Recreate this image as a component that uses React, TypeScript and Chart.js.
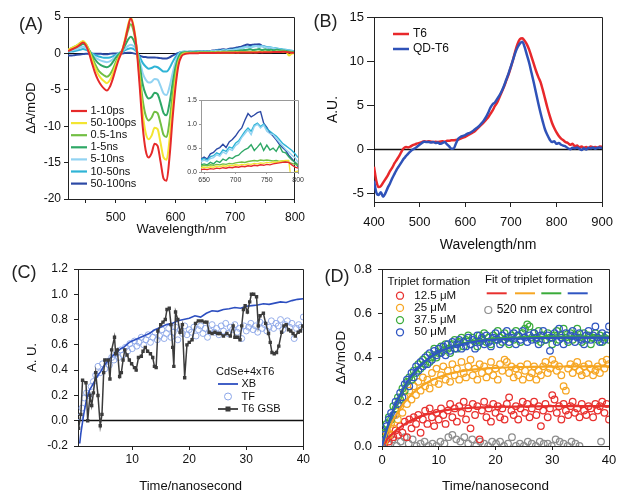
import React, { useEffect, useRef } from 'react';
import { Chart, registerables } from 'chart.js';
Chart.register(...registerables);

const FONT = "'Liberation Sans', Arial, Helvetica, sans-serif";

// ---------------- Panel A: transient spectra ----------------
const wlA = [420, 425, 430, 435, 440, 445, 450, 455, 460, 465, 470, 475, 480, 485, 490, 495, 500, 505, 510, 515, 520, 525, 530, 535, 540, 545, 550, 555, 560, 565, 570, 575, 580, 585, 590, 595, 600, 605, 610, 615, 620, 625, 630, 635, 640, 645, 650, 655, 660, 665, 670, 675, 680, 685, 690, 695, 700, 705, 710, 715, 720, 725, 730, 735, 740, 745, 750, 755, 760, 765, 770, 775, 780, 785, 790, 795, 800];
const a_1_10ps = [0.3, 0.5, 0.7, 0.9, 1.2, 1.5, 1.1, 0.1, -1.3, -2.6, -3.6, -4.3, -4.8, -5.1, -4.6, -3.5, -2.1, -0.8, 0.2, 1.6, 3.4, 4.8, 3.5, 0.6, -4.5, -10.0, -13.3, -14.3, -13.7, -12.4, -12.7, -14.9, -17.2, -17.5, -14.2, -9.0, -4.6, -1.6, -0.4, -0.1, 0.0, 0.02, 0.03, 0.02, 0.04,
  0.05, 0.06, 0.05, 0.07, 0.06, 0.08, 0.07, 0.09, 0.08, 0.10, 0.09, 0.11, 0.10, 0.12, 0.11, 0.13, 0.12, 0.14, 0.13, 0.15, 0.14, 0.16, 0.15, 0.17, 0.18, 0.19, 0.20, 0.21, 0.20, 0.15, 0.10, 0.08];
const a_50_100ps = [0.5, 0.7, 0.9, 1.1, 1.4, 1.7, 1.3, 0.4, -0.8, -1.9, -2.8, -3.4, -3.8, -4.1, -3.7, -2.8, -1.6, -0.6, 0.2, 1.8, 3.7, 5.0, 3.7, 0.8, -3.6, -8.2, -10.9, -11.8, -11.3, -10.2, -10.4, -12.3, -14.3, -14.6, -11.8, -7.4, -3.6, -1.2, -0.3, 0.0, 0.05, 0.06, 0.05, 0.07, 0.08,
  0.09, 0.10, 0.09, 0.11, 0.10, 0.12, 0.11, 0.13, 0.12, 0.14, 0.13, 0.15, 0.14, 0.16, 0.15, 0.17, 0.16, 0.18, 0.17, 0.19, 0.18, 0.20, 0.19, 0.21, 0.20, 0.22, 0.23, 0.24, 0.24, -0.3, 0.0, 0.02];
const a_05_1ns = [0.5, 0.7, 0.9, 1.1, 1.4, 1.6, 1.3, 0.5, -0.5, -1.4, -2.2, -2.7, -3.0, -3.2, -2.9, -2.2, -1.2, -0.4, 0.2, 1.5, 3.0, 4.0, 3.0, 0.7, -2.8, -6.4, -8.5, -9.2, -8.8, -8.0, -8.2, -9.6, -11.2, -11.5, -9.3, -5.8, -2.8, -0.9, -0.1, 0.1, 0.1, 0.1, 0.11, 0.1, 0.12,
  0.12, 0.14, 0.13, 0.15, 0.14, 0.16, 0.15, 0.17, 0.16, 0.18, 0.17, 0.19, 0.20, 0.21, 0.20, 0.22, 0.23, 0.24, 0.23, 0.25, 0.24, 0.25, 0.24, 0.23, 0.24, 0.22, 0.23, 0.21, 0.20, 0.18, 0.16, 0.14];
const a_1_5ns = [0.4, 0.6, 0.7, 0.9, 1.1, 1.3, 1.1, 0.5, -0.2, -0.8, -1.3, -1.6, -1.8, -1.9, -1.7, -1.2, -0.6, -0.1, 0.3, 1.0, 1.8, 2.3, 1.8, 0.5, -1.6, -4.2, -5.6, -6.2, -6.0, -5.4, -5.6, -6.8, -8.2, -8.5, -6.8, -4.2, -1.9, -0.5, 0.1, 0.15, 0.15, 0.14, 0.15, 0.16, 0.15,
  0.15, 0.17, 0.15, 0.20, 0.17, 0.23, 0.20, 0.27, 0.24, 0.30, 0.28, 0.33, 0.35, 0.42, 0.47, 0.50, 0.57, 0.45, 0.52, 0.60, 0.45, 0.56, 0.46, 0.50, 0.43, 0.55, 0.42, 0.40, 0.32, 0.25, 0.20, 0.15];
const a_5_10ns = [0.3, 0.4, 0.5, 0.6, 0.8, 0.9, 0.8, 0.4, -0.1, -0.5, -0.8, -1.0, -1.1, -1.2, -1.1, -0.8, -0.4, 0.0, 0.3, 0.6, 1.0, 1.2, 1.0, 0.3, -1.0, -2.7, -3.6, -4.0, -3.9, -3.5, -3.6, -4.5, -5.5, -5.7, -4.6, -2.8, -1.2, -0.2, 0.2, 0.22, 0.2, 0.22, 0.2, 0.22, 0.2,
  0.22, 0.25, 0.22, 0.28, 0.30, 0.36, 0.33, 0.42, 0.38, 0.48, 0.45, 0.55, 0.60, 0.72, 0.80, 0.88, 0.78, 0.95, 1.00, 0.92, 0.98, 0.85, 0.80, 0.78, 0.70, 0.62, 0.55, 0.47, 0.42, 0.35, 0.30, 0.20];
const a_10_50ns = [0.2, 0.25, 0.3, 0.4, 0.5, 0.6, 0.5, 0.3, 0.0, -0.2, -0.4, -0.5, -0.6, -0.6, -0.55, -0.4, -0.2, 0.0, 0.2, 0.4, 0.6, 0.7, 0.6, 0.2, -0.5, -1.3, -1.8, -2.1, -2.0, -1.8, -1.9, -2.2, -2.5, -2.5, -2.0, -1.2, -0.5, 0.0, 0.2, 0.25, 0.22, 0.25, 0.23, 0.26, 0.25,
  0.26, 0.28, 0.25, 0.32, 0.34, 0.40, 0.37, 0.46, 0.43, 0.52, 0.50, 0.60, 0.65, 0.75, 0.85, 0.92, 0.85, 0.98, 1.02, 0.95, 1.00, 0.90, 0.85, 0.80, 0.75, 0.68, 0.60, 0.55, 0.50, 0.45, 0.38, 0.30];
const a_50_100ns = [-0.3, -0.3, -0.25, -0.2, -0.15, -0.1, -0.05, -0.05, -0.05, -0.05, -0.05, -0.05, -0.1, -0.1, -0.05, 0.0, 0.0, 0.0, 0.0, 0.05, 0.1, 0.1, 0.0, -0.1, -0.3, -0.45, -0.5, -0.55, -0.55, -0.55, -0.6, -0.65, -0.7, -0.7, -0.55, -0.3, -0.1, 0.05, 0.15, 0.2, 0.2, 0.22, 0.22, 0.25, 0.25,
  0.27, 0.31, 0.27, 0.38, 0.41, 0.48, 0.51, 0.58, 0.51, 0.63, 0.68, 0.75, 0.85, 0.92, 1.08, 1.22, 1.15, 1.19, 1.24, 1.26, 1.02, 0.93, 0.82, 0.75, 0.67, 0.58, 0.51, 0.45, 0.35, 0.28, 0.20, 0.11];
const namesA = ['1-10ps', '50-100ps', '0.5-1ns', '1-5ns', '5-10ns', '10-50ns', '50-100ns'];
const valuesA = [a_1_10ps, a_50_100ps, a_05_1ns, a_1_5ns, a_5_10ns, a_10_50ns, a_50_100ns];
const colorsA = ['#e62a2a', '#f3e532', '#72bf44', '#2fa866', '#92d3f2', '#2fb4d6', '#2c49a5'];

// ---------------- Panel B ----------------
const wlB = [400, 405, 410, 415, 420, 425, 430, 435, 440, 445, 450, 455, 460, 465, 470, 475, 480, 485, 490, 495, 500, 505, 510, 515, 520, 525, 530, 535, 540, 545, 550, 555, 560, 565, 570, 575, 580, 585, 590, 595, 600, 605, 610, 615, 620, 625, 630, 635, 640, 645, 650, 655, 660, 665, 670, 675, 680, 685, 690, 695, 700, 705, 710, 715, 720, 725, 730, 735, 740, 745, 750, 755, 760, 765, 770, 775, 780, 785, 790, 795, 800, 805, 810, 815, 820, 825, 830, 835, 840, 845, 850, 855, 860, 865, 870, 875, 880, 885, 890, 895, 900];
const bT6 = [-2.0, -3.6, -4.3, -4.2, -3.8, -3.4, -3.0, -2.5, -2.1, -1.6, -1.2, -0.8, -0.3, 0.1, 0.25, 0.2, 0.3, 0.45, 0.55, 0.65, 0.7, 0.8, 0.9, 0.85, 0.9, 0.85, 0.8, 0.85, 0.8, 0.85, 0.9, 0.85, 0.95, 0.95, 1.0, 1.0, 1.05, 1.1, 1.2, 1.3, 1.4, 1.55, 1.7, 1.85, 2.0, 2.25, 2.5, 2.75, 3.0, 3.3, 3.6, 4.0, 4.4, 4.9, 5.3, 5.9, 6.5, 7.1, 7.8, 8.5, 9.3, 10.2, 11.2, 12.0, 12.5, 12.6, 12.3, 11.9, 11.3, 10.5, 9.7, 8.9, 8.2, 7.6, 6.7, 5.7, 4.7, 3.8, 3.0, 2.4, 1.9, 1.5, 1.2, 1.0, 0.8, 0.7, 0.5, 0.6, 0.35, 0.4, 0.2, 0.3, 0.15, 0.25, 0.1, 0.3, 0.2, 0.25, 0.15, 0.3, 0.25];
const bQDT6 = [-3.6, -4.9, -5.2, -4.9, -5.4, -5.0, -4.4, -3.9, -3.3, -2.8, -2.3, -1.9, -1.5, -1.1, -0.8, -0.5, -0.25, -0.05, 0.1, 0.3, 0.5, 0.7, 0.85, 0.8, 0.8, 0.75, 0.8, 0.7, 0.75, 0.6, 0.7, 0.8, 0.55, 0.3, 0.05, 0.1, 0.7, 1.2, 1.4, 1.5, 1.6, 1.75, 1.85, 2.0, 2.2, 2.4, 2.6, 2.9, 3.2, 3.6, 4.1, 4.7, 5.1, 5.3, 5.7, 6.1, 6.6, 7.2, 7.9, 8.6, 9.4, 10.2, 11.0, 11.6, 12.0, 12.2, 11.6, 10.7, 9.8, 8.7, 7.6, 6.4, 5.2, 4.1, 3.1, 2.2, 1.6, 1.1, 0.8, 0.9, 0.6, 0.7, 0.5, 0.4, 0.3, 0.1, 0.0, 0.15, 0.1, 0.2, 0.05, -0.1, 0.1, -0.05, 0.15, 0.1, 0.2, 0.05, 0.15, 0.2, 0.1];

// ---------------- Panel C ----------------
const xbT = [0.8, 1.0, 1.5, 2, 2.5, 3, 3.5, 4, 4.5, 5, 5.5, 6, 6.5, 7, 7.5, 8, 8.5, 9, 9.5, 10, 11, 12, 13, 14, 15, 16, 17, 18, 19, 20, 21, 22, 23, 24, 25, 26, 27, 28, 29, 30, 31, 32, 33, 34, 35, 36, 37, 38, 39, 40];
const xbV = [-0.18, -0.1, 0.05, 0.17, 0.24, 0.28, 0.32, 0.36, 0.39, 0.43, 0.46, 0.49, 0.51, 0.53, 0.55, 0.57, 0.58, 0.60, 0.62, 0.63, 0.65, 0.67, 0.69, 0.72, 0.74, 0.76, 0.77, 0.79, 0.80, 0.81, 0.83, 0.82, 0.85, 0.87, 0.865, 0.88, 0.885, 0.895, 0.89, 0.905, 0.91, 0.915, 0.925, 0.92, 0.93, 0.94, 0.935, 0.95, 0.96, 0.965];
const tfT = [0.8, 1.2, 1.6, 2.0, 2.4, 2.8, 3.2, 3.6, 4.0, 4.4, 4.8, 5.2, 5.6, 6.0, 6.4, 6.8, 7.2, 7.6, 8.0, 8.4, 8.8, 9.2, 9.6, 10.0, 10.4, 10.8, 11.2, 11.6, 12.0, 12.4, 12.8, 13.2, 13.6, 14.0, 14.4, 14.8, 15.2, 15.6, 16.0, 16.4, 16.8, 17.2, 17.6, 18.0, 18.4, 18.8, 19.2, 19.6, 20.0, 20.4, 20.8, 21.2, 21.6, 22.0, 22.4, 22.8, 23.2, 23.6, 24.0, 24.4, 24.8, 25.2, 25.6, 26.0, 26.4, 26.8, 27.2, 27.6, 28.0, 28.4, 28.8, 29.2, 29.6, 30.0, 30.4, 30.8, 31.2, 31.6, 32.0, 32.4, 32.8, 33.2, 33.6, 34.0, 34.4, 34.8, 35.2, 35.6, 36.0, 36.4, 36.8, 37.2, 37.6, 38.0, 38.4, 38.8, 39.2, 39.6, 40.0];
const tfV = [0.03, 0.10, 0.18, 0.22, 0.20, 0.27, 0.31, 0.36, 0.43, 0.38, 0.45, 0.41, 0.47, 0.44, 0.50, 0.48, 0.53, 0.50, 0.56, 0.52, 0.58, 0.55, 0.61, 0.57, 0.63, 0.59, 0.62, 0.66, 0.60, 0.64, 0.68, 0.62, 0.66, 0.70, 0.64, 0.67, 0.72, 0.65, 0.69, 0.73, 0.66, 0.70, 0.74, 0.64, 0.72, 0.69, 0.75, 0.68, 0.72, 0.70, 0.74, 0.67, 0.72, 0.75, 0.69, 0.73, 0.66, 0.71, 0.76, 0.70, 0.73, 0.68, 0.75, 0.71, 0.77, 0.69, 0.74, 0.72, 0.76, 0.70, 0.73, 0.65, 0.75, 0.71, 0.74, 0.77, 0.72, 0.75, 0.70, 0.78, 0.73, 0.76, 0.71, 0.74, 0.79, 0.73, 0.77, 0.75, 0.80, 0.72, 0.76, 0.79, 0.74, 0.77, 0.65, 0.73, 0.76, 0.74, 0.82];
const gsbT = [0.6, 1.0, 1.3, 1.9, 2.2, 2.6, 2.9, 3.2, 3.6, 4.0, 4.4, 4.7, 5.0, 5.2, 5.8, 6.1, 6.4, 6.9, 7.1, 7.4, 7.8, 8.1, 8.4, 8.7, 9.1, 9.5, 9.9, 10.4, 10.7, 11.1, 11.6, 11.9, 12.3, 12.7, 13.2, 13.6, 13.9, 14.2, 14.5, 15.0, 15.4, 15.8, 16.1, 16.5, 16.8, 17.1, 17.3, 17.6, 18.0, 18.4, 18.8, 19.2, 19.6, 20.0, 20.5, 21.1, 21.6, 22.2, 22.7, 23.1, 23.5, 24.0, 24.5, 25.0, 25.4, 26.0, 26.6, 27.2, 27.7, 28.0, 28.5, 28.9, 29.2, 29.5, 29.8, 30.2, 30.6, 30.9, 31.3, 31.8, 32.1, 32.4, 33.0, 33.4, 33.9, 34.2, 34.5, 34.9, 35.3, 35.7, 36.2, 36.6, 37.0, 37.4, 37.8, 38.2, 38.6, 39.1, 39.5, 39.9];
const gsbV = [-0.06, 0.05, 0.32, 0.30, 0.0, 0.2, 0.12, 0.22, 0.38, 0.2, -0.04, 0.05, 0.38, 0.48, 0.48, 0.33, 0.56, 0.66, 0.53, 0.56, 0.35, 0.38, 0.48, 0.56, 0.52, 0.48, 0.45, 0.42, 0.40, 0.50, 0.51, 0.55, 0.58, 0.55, 0.53, 0.50, 0.43, 0.42, 0.71, 0.76, 0.78, 0.80, 0.88, 0.89, 0.76, 0.58, 0.43, 0.86, 0.80, 0.70, 0.76, 0.34, 0.60, 0.62, 0.64, 0.77, 0.79, 0.79, 0.78, 0.78, 0.70, 0.69, 0.70, 0.69, 0.69, 0.67, 0.69, 0.67, 0.75, 0.66, 0.66, 0.64, 0.75, 0.88, 0.91, 0.86, 0.94, 1.0, 1.0, 0.98, 0.75, 0.83, 0.85, 0.77, 0.69, 0.62, 0.54, 0.53, 0.54, 0.59, 0.70, 0.75, 0.76, 0.72, 0.71, 0.69, 0.67, 0.70, 0.71, 0.75];

// ---------------- Panel D ----------------
const tD = [0, 0.4, 0.8, 1.2, 1.6, 2.0, 2.4, 2.8, 3.2, 3.6, 4.0, 4.4, 4.8, 5.2, 5.6, 6.0, 6.4, 6.8, 7.2, 7.6, 8.0, 8.4, 8.8, 9.2, 9.6, 10.0, 10.4, 10.8, 11.2, 11.6, 12.0, 12.4, 12.8, 13.2, 13.6, 14.0, 14.4, 14.8, 15.2, 15.6, 16.0, 16.4, 16.8, 17.2, 17.6, 18.0, 18.4, 18.8, 19.2, 19.6, 20.0, 20.4, 20.8, 21.2, 21.6, 22.0, 22.4, 22.8, 23.2, 23.6, 24.0, 24.4, 24.8, 25.2, 25.6, 26.0, 26.4, 26.8, 27.2, 27.6, 28.0, 28.4, 28.8, 29.2, 29.6, 30.0, 30.4, 30.8, 31.2, 31.6, 32.0, 32.4, 32.8, 33.2, 33.6, 34.0, 34.4, 34.8, 35.2, 35.6, 36.0, 36.4, 36.8, 37.2, 37.6, 38.0, 38.4, 38.8, 39.2, 39.6, 40.0];
const d50 = [0.00, 0.05, 0.09, 0.12, 0.15, 0.14, 0.20, 0.19, 0.24, 0.22, 0.28, 0.30, 0.27, 0.33, 0.31, 0.36, 0.34, 0.38, 0.36, 0.40, 0.37, 0.42, 0.39, 0.43, 0.41, 0.44, 0.42, 0.45, 0.41, 0.46, 0.43, 0.47, 0.44, 0.46, 0.48, 0.44, 0.47, 0.45, 0.49, 0.46, 0.48, 0.44, 0.50, 0.47, 0.49, 0.46, 0.50, 0.47, 0.45, 0.49, 0.51, 0.48, 0.46, 0.50, 0.48, 0.52, 0.47, 0.49, 0.51, 0.46, 0.50, 0.48, 0.52, 0.49, 0.47, 0.50, 0.48, 0.51, 0.49, 0.46, 0.50, 0.52, 0.48, 0.50, 0.43, 0.49, 0.51, 0.47, 0.53, 0.49, 0.46, 0.51, 0.48, 0.50, 0.52, 0.47, 0.49, 0.51, 0.48, 0.46, 0.50, 0.52, 0.48, 0.50, 0.54, 0.49, 0.47, 0.51, 0.48, 0.50, 0.54];
const d375 = [0.08, 0.06, 0.10, 0.13, 0.12, 0.18, 0.17, 0.22, 0.21, 0.26, 0.25, 0.29, 0.31, 0.30, 0.34, 0.33, 0.37, 0.35, 0.39, 0.37, 0.41, 0.38, 0.40, 0.44, 0.40, 0.42, 0.45, 0.43, 0.46, 0.44, 0.42, 0.46, 0.48, 0.44, 0.47, 0.49, 0.45, 0.48, 0.50, 0.46, 0.49, 0.47, 0.45, 0.50, 0.48, 0.51, 0.47, 0.49, 0.46, 0.50, 0.48, 0.52, 0.49, 0.47, 0.51, 0.49, 0.46, 0.50, 0.48, 0.52, 0.50, 0.47, 0.51, 0.53, 0.55, 0.54, 0.49, 0.51, 0.48, 0.52, 0.47, 0.50, 0.48, 0.51, 0.49, 0.46, 0.50, 0.52, 0.48, 0.50, 0.53, 0.49, 0.47, 0.51, 0.48, 0.50, 0.53, 0.49, 0.47, 0.51, 0.48, 0.50, 0.46, 0.49, 0.51, 0.48, 0.50, 0.47, 0.49, 0.50, 0.48];
const d25 = [0.00, 0.02, 0.06, 0.05, 0.10, 0.08, 0.14, 0.12, 0.18, 0.15, 0.22, 0.19, 0.25, 0.21, 0.27, 0.23, 0.29, 0.25, 0.31, 0.27, 0.30, 0.26, 0.33, 0.29, 0.35, 0.28, 0.32, 0.36, 0.30, 0.34, 0.29, 0.37, 0.32, 0.35, 0.30, 0.38, 0.33, 0.31, 0.36, 0.39, 0.32, 0.35, 0.30, 0.37, 0.33, 0.36, 0.31, 0.34, 0.38, 0.32, 0.35, 0.30, 0.37, 0.34, 0.39, 0.38, 0.33, 0.36, 0.31, 0.35, 0.32, 0.36, 0.30, 0.34, 0.37, 0.31, 0.33, 0.36, 0.30, 0.34, 0.32, 0.36, 0.38, 0.33, 0.35, 0.39, 0.37, 0.34, 0.36, 0.32, 0.27, 0.25, 0.35, 0.37, 0.33, 0.36, 0.38, 0.34, 0.32, 0.36, 0.33, 0.37, 0.35, 0.32, 0.34, 0.36, 0.33, 0.38, 0.35, 0.39, 0.37];
const d125 = [0.00, 0.01, 0.03, 0.02, 0.05, 0.04, 0.07, 0.05, 0.09, 0.06, 0.11, 0.04, 0.12, 0.08, 0.13, 0.10, 0.14, 0.06, 0.12, 0.16, 0.10, 0.17, 0.13, 0.09, 0.15, 0.12, 0.17, 0.14, 0.10, 0.16, 0.19, 0.13, 0.17, 0.11, 0.18, 0.15, 0.20, 0.12, 0.17, 0.08, 0.19, 0.14, 0.18, 0.03, 0.16, 0.20, 0.13, 0.17, 0.11, 0.19, 0.15, 0.18, 0.13, 0.17, 0.12, 0.19, 0.22, 0.16, 0.14, 0.18, 0.12, 0.17, 0.20, 0.15, 0.19, 0.13, 0.17, 0.20, 0.14, 0.18, 0.09, 0.16, 0.19, 0.13, 0.17, 0.23, 0.21, 0.15, 0.18, 0.12, 0.19, 0.16, 0.14, 0.18, 0.20, 0.15, 0.17, 0.13, 0.19, 0.16, 0.14, 0.18, 0.17, 0.13, 0.19, 0.16, 0.18, 0.20, 0.15, 0.19, 0.12];
const ctrlT = [0.5, 1.2, 1.9, 2.6, 3.3, 4.0, 4.7, 5.4, 6.1, 6.8, 7.5, 8.2, 8.9, 9.6, 10.3, 11.0, 11.7, 12.4, 13.1, 13.8, 14.5, 15.2, 15.9, 16.6, 17.3, 18.0, 18.7, 19.4, 20.1, 20.8, 21.5, 22.2, 22.9, 23.6, 24.3, 25.0, 25.7, 26.4, 27.1, 27.8, 28.5, 29.2, 29.9, 30.6, 31.3, 32.0, 32.7, 33.4, 34.1, 34.8, 38.6];
const ctrlV = [0.02, 0.01, 0.03, 0.00, 0.02, 0.04, 0.01, 0.03, 0.00, 0.01, 0.02, 0.00, 0.01, 0.00, 0.02, 0.01, 0.04, 0.05, 0.03, 0.02, 0.04, 0.01, 0.03, 0.00, 0.02, 0.01, 0.00, 0.02, 0.01, 0.02, 0.00, 0.01, 0.04, 0.00, 0.01, 0.00, 0.02, 0.01, 0.00, 0.02, 0.01, 0.01, 0.00, 0.03, 0.02, 0.01, 0.00, 0.02, 0.01, 0.00, 0.02];
const tFit = [0, 0.5, 1, 1.5, 2, 2.5, 3, 4, 5, 6, 7, 8, 9, 10, 12, 14, 16, 18, 20, 23, 26, 30, 35, 40];
const fit50 = [0, 0.047, 0.089, 0.127, 0.162, 0.193, 0.221, 0.270, 0.310, 0.342, 0.369, 0.391, 0.409, 0.424, 0.445, 0.460, 0.470, 0.477, 0.481, 0.485, 0.487, 0.489, 0.490, 0.490];
const fit375 = [0, 0.046, 0.087, 0.124, 0.158, 0.189, 0.217, 0.266, 0.306, 0.339, 0.366, 0.389, 0.407, 0.423, 0.446, 0.462, 0.473, 0.480, 0.485, 0.490, 0.492, 0.494, 0.495, 0.495];
const fit25 = [0, 0.034, 0.065, 0.093, 0.119, 0.141, 0.162, 0.198, 0.228, 0.252, 0.271, 0.287, 0.301, 0.311, 0.327, 0.338, 0.345, 0.350, 0.353, 0.356, 0.358, 0.359, 0.360, 0.360];
const fit125 = [0, 0.017, 0.033, 0.047, 0.059, 0.071, 0.081, 0.099, 0.114, 0.126, 0.136, 0.144, 0.150, 0.156, 0.164, 0.169, 0.173, 0.175, 0.177, 0.178, 0.179, 0.180, 0.180, 0.180];
const namesD = ['12.5 μM', '25 μM', '37.5 μM', '50 μM'];
const colorsD = ['#e8302e', '#f6a623', '#3aab3a', '#2f55c2'];
const grayD = '#8d8d8d';

// ---------------- helpers ----------------
const pts = (xs: number[], ys: number[]) => xs.map((x, i) => ({ x, y: ys[i] }));

function axis(o: any) {
  return {
    type: 'linear',
    min: o.min,
    max: o.max,
    afterFit: (s: any) => {
      if (o.w != null) s.width = o.w;
      if (o.h != null) s.height = o.h;
    },
    ticks: {
      stepSize: o.step,
      includeBounds: false,
      autoSkip: false,
      maxRotation: 0,
      minRotation: 0,
      font: { size: o.fs, family: FONT },
      color: o.tc || '#111',
      padding: o.pad,
      callback: o.cb,
    },
    grid: { display: true, drawOnChartArea: false, drawTicks: true, tickLength: o.tl, color: o.bc || '#222', tickColor: o.bc || '#222' },
    border: { display: true, color: o.bc || '#222', width: 1 },
    title: o.title
      ? { display: true, text: o.title, font: { size: o.tfs, family: FONT }, color: '#111', padding: { top: o.tp || 0, bottom: o.tb || 0 } }
      : { display: false },
  };
}

function deco(cfg: any) {
  const al = (p: number) => Math.round(p - 0.5) + 0.5;
  return {
    id: 'deco',
    beforeDatasetsDraw(chart: any) {
      if (!cfg.zero) return;
      const { ctx, chartArea: ca, scales } = chart;
      const y = al(scales.y.getPixelForValue(0));
      ctx.save();
      ctx.strokeStyle = '#111';
      ctx.lineWidth = cfg.zeroWidth || 1;
      ctx.beginPath();
      ctx.moveTo(ca.left, y);
      ctx.lineTo(ca.right, y);
      ctx.stroke();
      ctx.restore();
    },
    afterDraw(chart: any) {
      const { ctx, chartArea: ca } = chart;
      ctx.save();
      if (cfg.frame) {
        ctx.strokeStyle = cfg.frameColor || '#222';
        ctx.lineWidth = 1;
        ctx.beginPath();
        ctx.moveTo(al(ca.left), al(ca.top));
        ctx.lineTo(al(ca.right), al(ca.top));
        ctx.lineTo(al(ca.right), al(ca.bottom));
        ctx.stroke();
      }
      for (const it of cfg.items || []) {
        if (it.t === 'text') {
          ctx.font = `${it.size}px ${FONT}`;
          ctx.fillStyle = it.color || '#111';
          ctx.textAlign = it.align || 'left';
          ctx.textBaseline = 'middle';
          ctx.fillText(it.s, it.x, it.y);
        } else if (it.t === 'line') {
          ctx.strokeStyle = it.color;
          ctx.lineWidth = it.w || 2;
          ctx.beginPath();
          ctx.moveTo(it.x1, it.y);
          ctx.lineTo(it.x2, it.y);
          ctx.stroke();
        } else if (it.t === 'circle') {
          ctx.strokeStyle = it.color;
          ctx.lineWidth = it.w || 1.2;
          ctx.beginPath();
          ctx.arc(it.x, it.y, it.r, 0, Math.PI * 2);
          ctx.stroke();
        } else if (it.t === 'square') {
          ctx.fillStyle = it.color;
          ctx.fillRect(it.x - it.s / 2, it.y - it.s / 2, it.s, it.s);
        }
      }
      ctx.restore();
    },
  };
}

const common = {
  animation: false,
  responsive: false,
  maintainAspectRatio: false,
  devicePixelRatio: 1,
  events: [],
  plugins: { legend: { display: false }, tooltip: { enabled: false } },
};

const fmt1 = (v: any) => {
  const n = Number(v);
  return (Math.abs(n) < 1e-9 ? 0 : n).toFixed(1);
};

// ---------------- chart configs ----------------
function cfgA() {
  const items: any[] = [{ t: 'text', s: '(A)', x: 31, y: 25, size: 18, align: 'center', color: '#222' }];
  namesA.forEach((n, i) => {
    const y = 111 + i * 12.1;
    items.push({ t: 'line', x1: 71, x2: 87, y, color: colorsA[i], w: 2.2 });
    items.push({ t: 'text', s: n, x: 90.5, y, size: 11 });
  });
  return {
    type: 'line',
    data: {
      datasets: valuesA.map((v, i) => ({
        data: pts(wlA, v), borderColor: colorsA[i], borderWidth: 2, pointRadius: 0, fill: false, cubicInterpolationMode: 'monotone',
      })),
    },
    options: {
      ...common,
      layout: { padding: { left: 0, right: 3, top: 17, bottom: 0 } },
      scales: {
        x: axis({ min: 420, max: 800, step: 50, fs: 12, pad: 7, tl: 4, h: 41, cb: (v: any) => (Number(v) % 100 === 0 ? String(v) : ''), title: 'Wavelength/nm', tfs: 13, tb: 3 }),
        y: axis({ min: -20, max: 5, step: 5, fs: 12, pad: 3, tl: 4, w: 68, title: 'ΔA/mOD', tfs: 13, tp: 24 }),
      },
    },
    plugins: [deco({ frame: true, zero: true, zeroWidth: 1, items })],
  };
}

function cfgInset() {
  return {
    type: 'line',
    data: {
      datasets: valuesA.map((v, i) => ({
        data: pts(wlA, v), borderColor: colorsA[i], borderWidth: 1.4, pointRadius: 0, fill: false,
      })),
    },
    options: {
      ...common,
      layout: { padding: { left: 0, right: 4, top: 5, bottom: 0 } },
      scales: {
        x: axis({ min: 645, max: 800, step: 50, fs: 7, pad: 2, tl: 2, h: 14, bc: '#999', tc: '#333' }),
        y: axis({ min: 0, max: 1.5, step: 0.5, fs: 7, pad: 2, tl: 2, w: 25, bc: '#999', tc: '#333', cb: fmt1 }),
      },
    },
    plugins: [deco({ frame: true, frameColor: '#999' })],
  };
}

function cfgB() {
  const items: any[] = [
    { t: 'text', s: '(B)', x: 13.5, y: 22, size: 18, align: 'center', color: '#222' },
    { t: 'line', x1: 81, x2: 97, y: 34, color: '#e8282b', w: 2.5 },
    { t: 'text', s: 'T6', x: 101, y: 34, size: 12 },
    { t: 'line', x1: 81, x2: 97, y: 49, color: '#2f52b8', w: 2.5 },
    { t: 'text', s: 'QD-T6', x: 101, y: 49, size: 12 },
  ];
  return {
    type: 'line',
    data: {
      datasets: [
        { data: pts(wlB, bQDT6), borderColor: '#2f52b8', borderWidth: 2.5, pointRadius: 0, fill: false, cubicInterpolationMode: 'monotone' },
        { data: pts(wlB, bT6), borderColor: '#e8282b', borderWidth: 2.5, pointRadius: 0, fill: false, cubicInterpolationMode: 'monotone' },
      ],
    },
    options: {
      ...common,
      layout: { padding: { left: 0, right: 10, top: 17, bottom: 0 } },
      scales: {
        x: axis({ min: 400, max: 900, step: 100, fs: 13, pad: 8, tl: 5, h: 54, title: 'Wavelength/nm', tfs: 14, tb: 2 }),
        y: axis({ min: -6, max: 15, step: 5, fs: 13, pad: 3, tl: 7, w: 62, title: 'A.U.', tfs: 14, tp: 13 }),
      },
    },
    plugins: [deco({ frame: true, zero: true, zeroWidth: 1.5, items })],
  };
}

function cfgC() {
  const items: any[] = [
    { t: 'text', s: '(C)', x: 24, y: 21.5, size: 18, align: 'center', color: '#222' },
    { t: 'text', s: 'CdSe+4xT6', x: 216, y: 119.5, size: 11 },
    { t: 'line', x1: 218, x2: 238, y: 132, color: '#2d4fc0', w: 1.8 },
    { t: 'text', s: 'XB', x: 241.5, y: 132, size: 11 },
    { t: 'circle', x: 228, y: 144.5, r: 3.5, color: '#8aa5e8', w: 1 },
    { t: 'text', s: 'TF', x: 241.5, y: 144.5, size: 11 },
    { t: 'line', x1: 218, x2: 238, y: 157, color: '#3b3b3b', w: 1.8 },
    { t: 'square', x: 228, y: 157, s: 5, color: '#3b3b3b' },
    { t: 'text', s: 'T6 GSB', x: 241.5, y: 157, size: 11 },
  ];
  return {
    type: 'line',
    data: {
      datasets: [
        { data: pts(gsbT, gsbV), borderColor: '#3b3b3b', borderWidth: 1.5, pointStyle: 'rect', pointRadius: 2.4, pointBackgroundColor: '#3b3b3b', pointBorderColor: '#3b3b3b', pointBorderWidth: 0, fill: false },
        { data: pts(xbT, xbV), borderColor: '#2d4fc0', borderWidth: 1.6, pointRadius: 0, fill: false },
        { data: pts(tfT, tfV), showLine: false, borderColor: '#8aa5e8', backgroundColor: 'rgba(0,0,0,0)', pointStyle: 'circle', pointRadius: 3, pointBorderWidth: 0.9, pointBorderColor: '#8aa5e8', pointBackgroundColor: 'rgba(0,0,0,0)' },
      ],
    },
    options: {
      ...common,
      layout: { padding: { left: 0, right: 6, top: 17, bottom: 0 } },
      scales: {
        x: axis({ min: 0.5, max: 40, step: 10, fs: 12, pad: 2, tl: 4, h: 48, title: 'Time/nanosecond', tfs: 13, tb: 0 }),
        y: axis({ min: -0.2, max: 1.2, step: 0.2, fs: 12, pad: 6, tl: 4, w: 78, cb: fmt1, title: 'A. U.', tfs: 13, tp: 25 }),
      },
    },
    plugins: [deco({ frame: true, zero: true, zeroWidth: 1.5, items })],
  };
}

function cfgD() {
  const items: any[] = [
    { t: 'text', s: '(D)', x: 25, y: 24.7, size: 18, align: 'center', color: '#222' },
    { t: 'text', s: 'Triplet formation', x: 75.5, y: 30.3, size: 11.5 },
    { t: 'text', s: 'Fit of triplet formation', x: 173, y: 28, size: 11.5 },
    { t: 'circle', x: 176.3, y: 58, r: 3.5, color: grayD, w: 1.2 },
    { t: 'text', s: '520 nm ex control', x: 184.7, y: 58, size: 12 },
  ];
  const dashX = [174.7, 203, 229.3, 255.7];
  namesD.forEach((n, i) => {
    const y = 43.7 + i * 12.2;
    items.push({ t: 'circle', x: 88, y, r: 3.5, color: colorsD[i], w: 1.3 });
    items.push({ t: 'text', s: n, x: 102.3, y, size: 11.5 });
    items.push({ t: 'line', x1: dashX[i], x2: dashX[i] + 20, y: 41.3, color: colorsD[i], w: 2 });
  });
  const fits = [fit125, fit25, fit375, fit50];
  const data = [d125, d25, d375, d50];
  const fitSets = [3, 2, 1, 0].map((i) => ({
    data: pts(tFit, fits[i]), borderColor: colorsD[i], borderWidth: 2.2, pointRadius: 0, fill: false, cubicInterpolationMode: 'monotone',
  }));
  const scatter = (xs: number[], ys: number[], c: string) => ({
    data: pts(xs, ys), showLine: false, pointStyle: 'circle', pointRadius: 3.3, pointBorderWidth: 1.25,
    pointBorderColor: c, borderColor: c, pointBackgroundColor: 'rgba(0,0,0,0)', backgroundColor: 'rgba(0,0,0,0)',
  });
  return {
    type: 'line',
    data: {
      datasets: [
        ...fitSets,
        scatter(tD, data[3], colorsD[3]),
        scatter(tD, data[2], colorsD[2]),
        scatter(tD, data[1], colorsD[1]),
        scatter(tD, data[0], colorsD[0]),
        scatter(ctrlT, ctrlV, grayD),
      ],
    },
    options: {
      ...common,
      layout: { padding: { left: 0, right: 12, top: 17, bottom: 0 } },
      scales: {
        x: axis({ min: 0, max: 40, step: 10, fs: 13, pad: 3, tl: 4, h: 48, title: 'Time/nanosecond', tfs: 13.5, tb: 0 }),
        y: axis({ min: 0, max: 0.8, step: 0.2, fs: 13, pad: 6, tl: 4, w: 70, cb: fmt1, title: 'ΔA/mOD', tfs: 13.5, tp: 21.6 }),
      },
    },
    plugins: [deco({ frame: true, items })],
  };
}

function Panel(props: { left: number; top: number; width: number; height: number; make: () => any }) {
  const ref = useRef<HTMLCanvasElement>(null);
  useEffect(() => {
    const chart = new Chart(ref.current as HTMLCanvasElement, props.make());
    return () => chart.destroy();
  }, []);
  return (
    <canvas
      ref={ref}
      width={props.width}
      height={props.height}
      style={{ position: 'absolute', left: props.left, top: props.top, width: props.width, height: props.height }}
    />
  );
}

export default function App() {
  return (
    <div style={{ position: 'fixed', left: 0, top: 0, width: 621, height: 494, background: '#fff', overflow: 'hidden' }}>
      <Panel left={0} top={0} width={312} height={240} make={cfgA} />
      <Panel left={176} top={94} width={130} height={92} make={cfgInset} />
      <Panel left={312} top={0} width={309} height={256} make={cfgB} />
      <Panel left={0} top={252} width={312} height={242} make={cfgC} />
      <Panel left={312} top={252} width={309} height={242} make={cfgD} />
    </div>
  );
}
